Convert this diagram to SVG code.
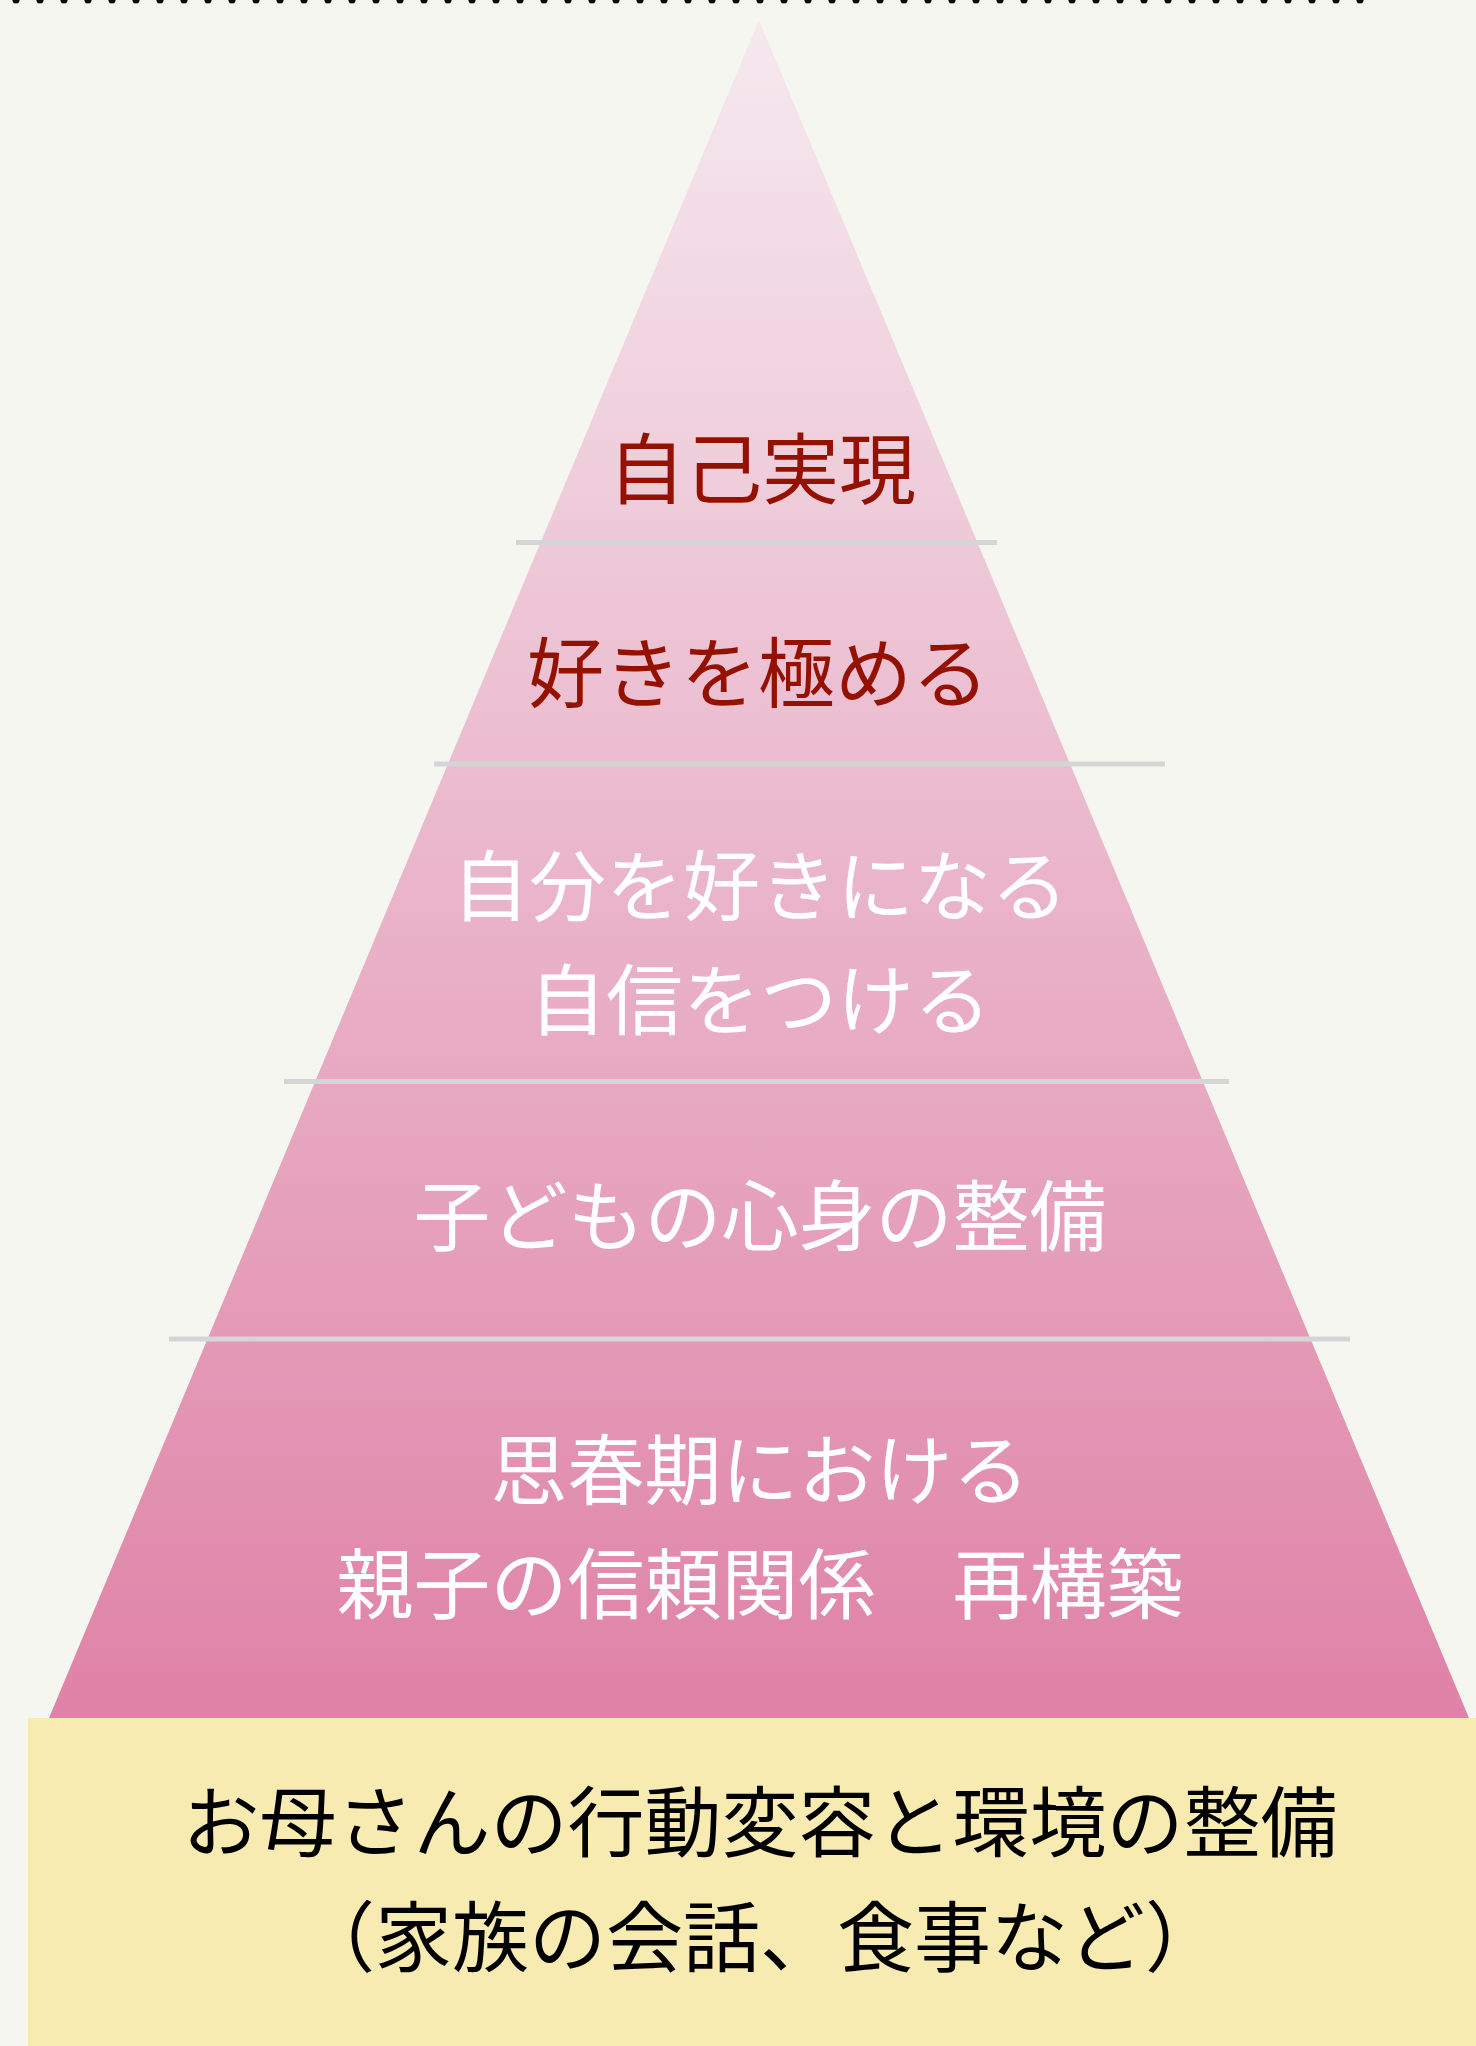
<svg xmlns="http://www.w3.org/2000/svg" width="1476" height="2046" viewBox="0 0 1476 2046">
  <defs>
    <linearGradient id="pyr" x1="0" y1="20" x2="0" y2="1718" gradientUnits="userSpaceOnUse">
      <stop offset="0" stop-color="#f5e9ee"/>
      <stop offset="1" stop-color="#df82a7"/>
    </linearGradient>
    <style>
      .t { font-family: "Noto Sans CJK JP", "Noto Sans", sans-serif; font-size: 77px; text-anchor: middle; dominant-baseline: central; }
      .red { fill: #941100; }
      .white { fill: #ffffff; }
      .black { fill: #000000; }
      .sep { stroke: #d5d5d5; stroke-width: 5; fill: none; }
    </style>
  </defs>
  <rect x="0" y="0" width="1476" height="2046" fill="#f6f6f1"/>
  <g id="dots">
    <line x1="16" y1="0" x2="1364" y2="0" stroke="#000" stroke-width="7" stroke-linecap="round" stroke-dasharray="0 24"/>
  </g>
  <g id="pyramid">
    <polygon points="759,20 1469,1718 49,1718" fill="url(#pyr)"/>
  </g>
  <g id="connectors">
    <line class="sep" x1="516" y1="542.5" x2="997" y2="542.5"/>
    <line class="sep" x1="434" y1="764" x2="1165" y2="764"/>
    <line class="sep" x1="284" y1="1081.5" x2="1229" y2="1081.5"/>
    <line class="sep" x1="169" y1="1339" x2="1350" y2="1339"/>
  </g>
  <g id="level1">
    <text class="t red" x="762" y="464">自己実現</text>
  </g>
  <g id="level2">
    <text class="t red" x="758" y="668">好きを極める</text>
  </g>
  <g id="level3">
    <text class="t white" x="760" y="881">自分を好きになる</text>
    <text class="t white" x="760" y="995">自信をつける</text>
  </g>
  <g id="level4">
    <text class="t white" x="760" y="1211">子どもの心身の整備</text>
  </g>
  <g id="level5">
    <text class="t white" x="760" y="1465">思春期における</text>
    <text class="t white" x="760" y="1579">親子の信頼関係　再構築</text>
  </g>
  <g id="base">
    <rect x="28" y="1718" width="1448" height="328" fill="#f8ebb2"/>
    <text class="t black" x="760" y="1817">お母さんの行動変容と環境の整備</text>
    <text class="t black" x="760" y="1932">（家族の会話、食事など）</text>
  </g>
</svg>
